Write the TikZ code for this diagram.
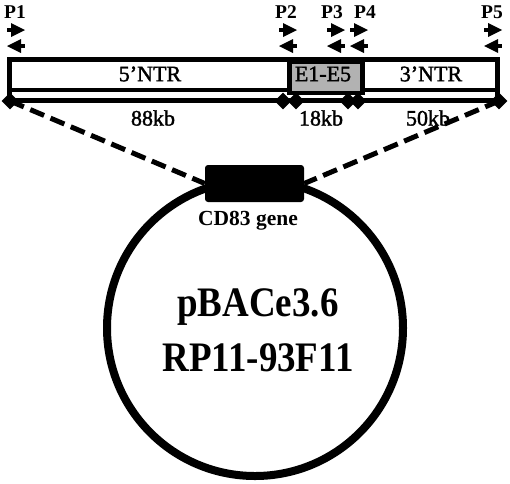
\documentclass[tikz,border=0pt]{standalone}
\usepackage{fontspec}
\setmainfont{Liberation Serif}
\newfontfamily\semib[FakeBold=1.6,Ligatures=TeX]{Liberation Serif}
\usetikzlibrary{arrows.meta,shapes.geometric}
\begin{document}
\begin{tikzpicture}[x=1pt,y=-1pt,
  seg/.style={draw=black,line width=4.5pt,minimum height=31pt,inner sep=0pt,anchor=north west},
  dia/.style={diamond,fill=black,minimum size=17pt,inner sep=0pt},
  lbl/.style={font=\bfseries\fontsize{19.5}{19.5}\selectfont,inner sep=0pt},
  boxlbl/.style={font=\semib\fontsize{22}{22}\selectfont,inner sep=0pt},
  big/.style={font=\bfseries\fontsize{42}{42}\selectfont,inner sep=0pt,xscale=0.88},
  dsh/.style={line width=5pt,dash pattern=on 15pt off 7pt}]
\useasboundingbox (0,0) rectangle (510,483);
% main bar
\draw[line width=4.5pt] (9.5,59.5) rectangle (497.5,100.5);
\draw[line width=4.5pt] (9.5,90) -- (497.5,90);
\node[seg,fill=gray!60,minimum width=73pt] (ex) at (287,59.5) {};
\node[boxlbl] at (150,74) {5’NTR};
\node[boxlbl] at (323,74) {E1-E5};
\node[boxlbl] at (431,74) {3’NTR};
% diamonds
\node[dia] (d1) at (10,101) {};
\node[dia] (d2) at (283,101) {};
\node[dia] (d3) at (296,101) {};
\node[dia] (d4) at (348,101) {};
\node[dia] (d5) at (358,101) {};
\node[dia] (d6) at (499,101) {};
\node[boxlbl] at (153,118) {88kb};
\node[boxlbl] at (321,118) {18kb};
\node[boxlbl] at (428,118) {50kb};
% primers
\foreach \n/\a/\b/\lx in {1/7/25/15, 2/279/297/286, 3/327/345/332, 4/350/368/365, 5/484/502/492}{
  \node[lbl] (p\n) at (\lx,12) {P\n};
  % forward primer
  \fill ({\a},28) rectangle ({\a+6},32);
  \fill ({\b-14},23) -- ({\b},30) -- ({\b-14},37) -- cycle;
  % reverse primer
  \fill ({\b-6},44) rectangle ({\b},48);
  \fill ({\a+14},39) -- ({\a},46) -- ({\a+14},53) -- cycle;
}
% plasmid
\node[circle,draw=black,line width=8pt,minimum size=296pt,inner sep=0pt] (plas) at (255,328) {};
\node[fill=black,rounded corners=3pt,minimum width=99pt,minimum height=37pt,inner sep=0pt] (gene) at (254.5,183.5) {};
\node[font=\bfseries\fontsize{21.5}{21.5}\selectfont,inner sep=0pt] at (248,221) {CD83 gene};
\draw[dsh] (d1.center) -- (gene.west);
\draw[dsh] (d6.center) -- (gene.east);
\node[big] at (258,307) {pBACe3.6};
\node[big] at (258,358) {RP11-93F11};
\end{tikzpicture}
\end{document}
